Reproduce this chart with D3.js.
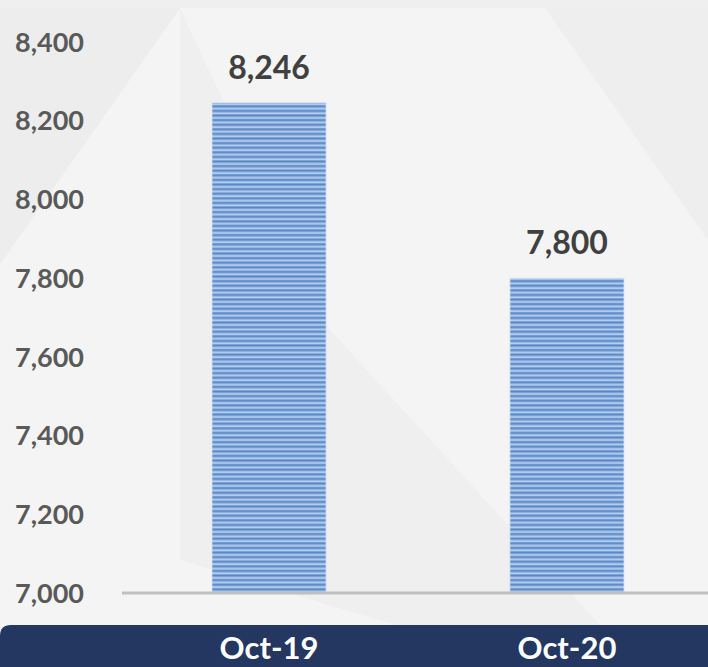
<!DOCTYPE html>
<html>
<head>
<meta charset="utf-8">
<script src="https://cdn.jsdelivr.net/npm/d3@7"></script>
<style>
  body { margin: 0; background: #efefef; }
  svg { display: block; }
</style>
</head>
<body>
<div id="chart"></div>
<script>
// chart data
var categories = ["Oct-19", "Oct-20"];
var values = [8246, 7800];
var yTicks = [7000, 7200, 7400, 7600, 7800, 8000, 8200, 8400];

var chart = {
    w: 708,
    h: 667,
    font: "Lato, 'Open Sans', sans-serif"
};

function gen_chart() {
    var svg = d3.select("#chart")
        .append("svg")
        .attr("width", chart.w)
        .attr("height", chart.h);

    // background facets
    svg.append("rect").attr("width", chart.w).attr("height", chart.h).attr("fill", "#efefef");
    var bg = [
        { pts: [[180, 8], [708, 8], [708, 667], [0, 667], [0, 264]], c: "#f4f4f4" },
        { pts: [[180, 8], [330, 330], [600, 625], [395, 625], [180, 560]], c: "#efefef" },
        { pts: [[545, 8], [708, 8], [708, 240]], c: "#eeeeee" },
        { pts: [[0, 8], [180, 8], [0, 264]], c: "#ededed" }
    ];
    svg.selectAll("polygon.bg")
        .data(bg)
        .enter().append("polygon")
        .attr("class", "bg")
        .attr("points", function (d) { return d.pts.join(" "); })
        .attr("fill", function (d) { return d.c; });

    var defs = svg.append("defs");
    var grad = defs.append("linearGradient")
        .attr("id", "stripeGrad")
        .attr("x1", 0).attr("y1", 0).attr("x2", 0).attr("y2", 1);
    grad.append("stop").attr("offset", "0%").attr("stop-color", "#4a7abd");
    grad.append("stop").attr("offset", "40%").attr("stop-color", "#86abdf");
    grad.append("stop").attr("offset", "65%").attr("stop-color", "#c9dcf4");
    grad.append("stop").attr("offset", "100%").attr("stop-color", "#5a88c8");
    var pat = defs.append("pattern")
        .attr("id", "stripes")
        .attr("patternUnits", "userSpaceOnUse")
        .attr("width", 10).attr("height", 4.6);
    pat.append("rect").attr("width", 10).attr("height", 4.6).attr("fill", "url(#stripeGrad)");

    var x = d3.scaleBand()
        .domain(categories)
        .range([122, 714])
        .paddingInner(0.617)
        .paddingOuter(0.302);

    var y = d3.scaleLinear()
        .domain([7000, 8400])
        .range([593, 42]);

    // y tick labels
    svg.selectAll("text.ytick")
        .data(yTicks)
        .enter().append("text")
        .attr("class", "ytick")
        .attr("x", 84)
        .attr("y", function (d) { return y(d); })
        .attr("dy", "0.36em")
        .attr("text-anchor", "end")
        .attr("font-family", chart.font)
        .attr("font-weight", "bold")
        .attr("font-size", 27)
        .attr("fill", "#595959")
        .text(function (d) { return d3.format(",")(d); });

    // bars
    svg.selectAll("rect.bar")
        .data(values)
        .enter().append("rect")
        .attr("class", "bar")
        .attr("x", function (d, i) { return x(categories[i]); })
        .attr("y", function (d) { return y(d); })
        .attr("width", x.bandwidth())
        .attr("height", function (d) { return y(7000) - y(d); })
        .attr("fill", "url(#stripes)")
        .attr("stroke", "#dbe5f4")
        .attr("stroke-width", 0.8);

    // value labels
    svg.selectAll("text.val")
        .data(values)
        .enter().append("text")
        .attr("class", "val")
        .attr("x", function (d, i) { return x(categories[i]) + x.bandwidth() / 2; })
        .attr("y", function (d) { return y(d) - 24; })
        .attr("text-anchor", "middle")
        .attr("font-family", chart.font)
        .attr("font-weight", "bold")
        .attr("font-size", 32)
        .attr("fill", "#404040")
        .text(function (d) { return d3.format(",")(d); });

    // baseline
    svg.append("line")
        .attr("x1", 122).attr("x2", 708)
        .attr("y1", y(7000)).attr("y2", y(7000))
        .attr("stroke", "#bfbfbf")
        .attr("stroke-width", 3);

    // bottom band
    svg.append("path")
        .attr("d", "M0,667 L0,636 Q0,625 11,625 L708,625 L708,667 Z")
        .attr("fill", "#243760");

    svg.selectAll("text.cat")
        .data(categories)
        .enter().append("text")
        .attr("class", "cat")
        .attr("x", function (d) { return x(d) + x.bandwidth() / 2; })
        .attr("y", 659)
        .attr("text-anchor", "middle")
        .attr("font-family", chart.font)
        .attr("font-weight", "bold")
        .attr("font-size", 31)
        .attr("fill", "#ffffff")
        .text(function (d) { return d; });
}

gen_chart();
</script>
</body>
</html>
